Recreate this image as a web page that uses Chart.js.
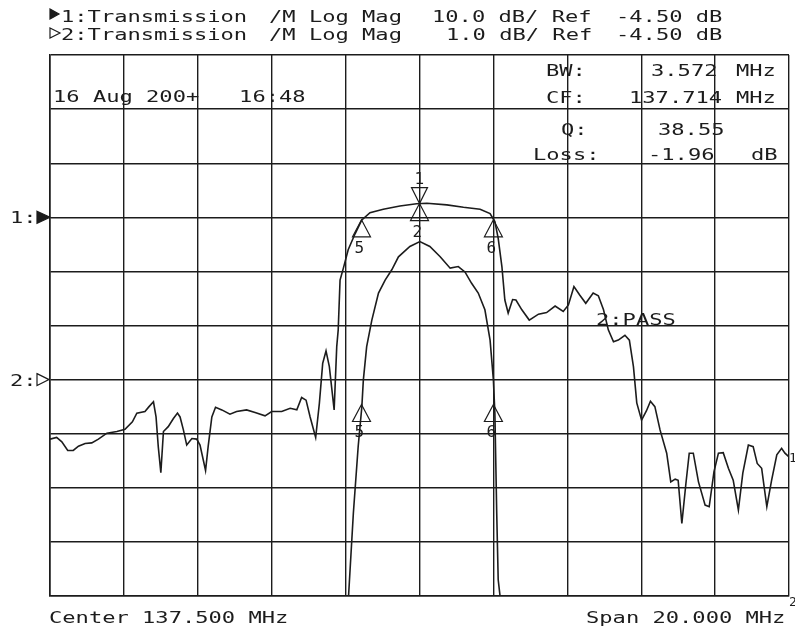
<!DOCTYPE html>
<html>
<head>
<meta charset="utf-8">
<script src="https://cdn.jsdelivr.net/npm/chart.js@4.4.1/dist/chart.umd.min.js"></script>
<style>
  html, body { margin: 0; padding: 0; background: #fff; }
  #wrap { width: 795px; height: 627px; }
</style>
</head>
<body>
<div id="wrap"><canvas id="vna"></canvas></div>
<script>
// sweep: center 137.5 MHz, span 20 MHz, 2 MHz/div
const startMHz = 127.5;
const stopMHz = 147.5;
const refLevel = -4.5;
// trace 1: 10 dB/div, ref on 3rd line from top
const top1 = 25.5, bot1 = -74.5;
// trace 2: 1 dB/div, ref on 6th line from top
const top2 = 1.5, bot2 = -8.5;

// trace 1 (wide view)
const freq1 = [127.50, 127.68, 127.82, 127.98, 128.13, 128.27, 128.45, 128.63, 128.81, 129.04,
  129.31, 129.53, 129.73, 129.85, 130.07, 130.18, 130.30, 130.37, 130.43, 130.50,
  130.57, 130.70, 130.84, 130.95, 131.02, 131.11, 131.20, 131.34, 131.47, 131.56,
  131.65, 131.71, 131.78, 131.88, 131.98, 132.15, 132.37, 132.55, 132.82, 133.05,
  133.32, 133.50, 133.77, 134.00, 134.18, 134.31, 134.43, 134.54, 134.69, 134.79,
  134.88, 134.97, 135.06, 135.19, 135.26, 135.30, 135.35, 135.44, 135.57, 135.76,
  135.94, 136.16, 136.52, 136.97, 137.42, 137.70, 138.24, 138.69, 139.14, 139.41,
  139.54, 139.63, 139.73, 139.81, 139.90, 140.02, 140.11, 140.27, 140.47, 140.72,
  140.94, 141.17, 141.39, 141.53, 141.68, 141.84, 142.00, 142.20, 142.34, 142.48,
  142.61, 142.75, 142.88, 143.06, 143.18, 143.29, 143.38, 143.51, 143.64, 143.75,
  143.87, 144.01, 144.19, 144.30, 144.42, 144.50, 144.60, 144.71, 144.80, 144.91,
  145.05, 145.23, 145.34, 145.47, 145.59, 145.72, 145.86, 145.99, 146.13, 146.25,
  146.40, 146.53, 146.64, 146.76, 146.90, 147.03, 147.17, 147.30, 147.39, 147.50];
const mag1 = [-45.5, -45.2, -46.0, -47.6, -47.6, -46.8, -46.3, -46.2, -45.5, -44.4,
  -44.1, -43.7, -42.3, -40.7, -40.4, -39.5, -38.6, -41.4, -46.9, -51.7,
  -44.1, -43.2, -41.7, -40.7, -41.4, -43.8, -46.6, -45.4, -45.5, -46.6,
  -49.4, -51.3, -46.9, -41.4, -39.6, -40.1, -40.9, -40.4, -40.1, -40.6,
  -41.2, -40.4, -40.4, -39.8, -40.1, -37.8, -38.3, -41.4, -45.2, -38.9,
  -31.5, -29.2, -32.1, -40.1, -28.4, -25.3, -16.1, -13.9, -10.5, -7.5,
  -5.0, -3.65, -3.0, -2.4, -2.0, -1.9, -2.2, -2.65, -3.0, -3.8,
  -5.3, -8.4, -13.6, -19.8, -22.2, -19.7, -19.8, -21.6, -23.5, -22.4,
  -22.1, -20.9, -21.9, -20.7, -17.3, -18.9, -20.4, -18.5, -19.0, -21.6,
  -25.3, -27.5, -27.2, -26.3, -27.2, -32.1, -38.8, -42.0, -40.3, -38.5,
  -39.5, -43.8, -48.1, -53.4, -52.9, -53.1, -61.1, -53.7, -48.1, -48.1,
  -53.4, -57.7, -58.0, -51.5, -48.1, -48.0, -50.9, -53.1, -58.6, -51.8,
  -46.6, -46.9, -50.0, -50.9, -58.0, -53.1, -48.4, -47.2, -48.1, -48.8];

// trace 2 (passband zoom, clipped at the bottom of the screen)
const freq2 = [127.50, 135.58, 135.71, 135.84, 135.94, 135.98, 136.07, 136.21, 136.39, 136.57,
  136.75, 136.93, 137.24, 137.51, 137.78, 138.06, 138.33, 138.55, 138.73, 138.91,
  139.09, 139.27, 139.41, 139.50, 139.54, 139.59, 139.63, 139.68, 147.50];
const mag2 = [-8.5, -8.5, -6.97, -5.74, -5.00, -4.51, -3.89, -3.40, -2.90, -2.66,
  -2.47, -2.23, -2.04, -1.95, -2.04, -2.23, -2.44, -2.41, -2.51, -2.72,
  -2.90, -3.21, -3.77, -4.51, -5.12, -6.97, -8.20, -8.5, -8.5];

// markers
const markerTrace = [1, 1, 1, 1, 2, 2];
const markerFreq = [137.50, 137.50, 135.93, 139.50, 135.93, 139.50];
const markerDb = [-1.96, -1.96, -4.96, -4.96, -4.96, -4.96];
const markerText = ['1', '2', '5', '6', '5', '6'];
const markerDown = [true, false, false, false, false, false];

const ink = '#1c1c1c';
const monoFont = '"DejaVu Sans Mono", "Liberation Mono", monospace';

function hpText(ctx, str, x, y, size, sx) {
  ctx.save();
  ctx.translate(x, y);
  ctx.scale(sx || 1.38, 1);
  ctx.font = (size || 16) + 'px ' + monoFont;
  ctx.fillStyle = ink;
  ctx.textBaseline = 'alphabetic';
  ctx.fillText(str, 0, 0);
  ctx.restore();
}

function tri(ctx, pts, filled) {
  ctx.beginPath();
  ctx.moveTo(pts[0], pts[1]);
  ctx.lineTo(pts[2], pts[3]);
  ctx.lineTo(pts[4], pts[5]);
  ctx.closePath();
  if (filled) { ctx.fillStyle = ink; ctx.fill(); }
  ctx.strokeStyle = ink;
  ctx.lineWidth = 1.2;
  ctx.stroke();
}

const screenText = {
  id: 'screenText',
  afterDraw(chart) {
    const ctx = chart.ctx;
    const xs = chart.scales.x, y1 = chart.scales.y, y2 = chart.scales.y2;

    // header
    tri(ctx, [50, 9, 59, 14, 50, 19], true);
    hpText(ctx, '1:Transmission', 61, 22);
    hpText(ctx, '/M Log Mag', 269, 22);
    hpText(ctx, '10.0 dB/ Ref', 432, 22);
    hpText(ctx, '-4.50 dB', 616, 22);
    tri(ctx, [50, 28, 60, 33, 50, 38], false);
    hpText(ctx, '2:Transmission', 61, 40);
    hpText(ctx, '/M Log Mag', 269, 40);
    hpText(ctx, '1.0 dB/ Ref', 446, 40);
    hpText(ctx, '-4.50 dB', 616, 40);

    // date and marker readouts
    hpText(ctx, '16 Aug 200+   16:48', 53, 102);
    hpText(ctx, 'BW:', 546, 76);
    hpText(ctx, '3.572', 651, 76);
    hpText(ctx, 'MHz', 736, 76);
    hpText(ctx, 'CF:', 546, 103);
    hpText(ctx, '137.714', 629, 103);
    hpText(ctx, 'MHz', 736, 103);
    hpText(ctx, 'Q:', 561, 135);
    hpText(ctx, '38.55', 658, 135);
    hpText(ctx, 'Loss:', 533, 160);
    hpText(ctx, '-1.96', 648, 160);
    hpText(ctx, 'dB', 751, 160);
    hpText(ctx, '2:PASS', 596, 325);

    // reference position arrows
    const r1 = y1.getPixelForValue(refLevel);
    const r2 = y2.getPixelForValue(refLevel);
    hpText(ctx, '1:', 10, r1 + 6);
    tri(ctx, [37, r1 - 6, 50, r1, 37, r1 + 6], true);
    hpText(ctx, '2:', 10, r2 + 6);
    tri(ctx, [37, r2 - 6, 49, r2, 37, r2 + 6], false);

    // footer
    hpText(ctx, 'Center 137.500 MHz', 49, 623);
    hpText(ctx, 'Span 20.000 MHz', 586, 623);

    // trace end labels at the right edge
    hpText(ctx, '1', 789, 462, 13, 1);
    hpText(ctx, '2', 789, 606, 13, 1);

    // markers
    for (let i = 0; i < markerFreq.length; i++) {
      const ys = markerTrace[i] === 1 ? y1 : y2;
      const px = xs.getPixelForValue(markerFreq[i]);
      const py = ys.getPixelForValue(markerDb[i]);
      if (markerDown[i]) {
        tri(ctx, [px, py, px - 8, py - 16, px + 8, py - 16], false);
        hpText(ctx, markerText[i], px - 5, py - 20, 16, 1);
      } else {
        tri(ctx, [px, py, px - 9, py + 17, px + 9, py + 17], false);
        hpText(ctx, markerText[i], px - 7, py + 33, 16, 1);
      }
    }
  }
};

const gridTicks = s => {
  s.ticks = Array.from({ length: 11 }, (_, i) => ({ value: s.min + i * (s.max - s.min) / 10 }));
};

new Chart(document.getElementById('vna'), {
  type: 'line',
  data: {
    datasets: [
      {
        data: freq1.map((f, i) => ({ x: f, y: mag1[i] })),
        yAxisID: 'y',
        borderColor: ink,
        borderWidth: 1.6,
        pointRadius: 0,
        tension: 0
      },
      {
        data: freq2.map((f, i) => ({ x: f, y: mag2[i] })),
        yAxisID: 'y2',
        borderColor: ink,
        borderWidth: 1.6,
        pointRadius: 0,
        tension: 0
      }
    ]
  },
  options: {
    responsive: true,
    maintainAspectRatio: false,
    animation: false,
    events: [],
    layout: { padding: { left: 50, top: 55, right: 6, bottom: 31 } },
    plugins: {
      legend: { display: false },
      tooltip: { enabled: false }
    },
    scales: {
      x: {
        type: 'linear',
        min: startMHz,
        max: stopMHz,
        afterBuildTicks: gridTicks,
        ticks: { display: false },
        grid: { color: ink, lineWidth: 1.4, drawTicks: false },
        border: { color: ink, width: 1.6 }
      },
      y: {
        min: bot1,
        max: top1,
        afterBuildTicks: gridTicks,
        ticks: { display: false },
        grid: { color: ink, lineWidth: 1.4, drawTicks: false },
        border: { color: ink, width: 1.6 }
      },
      y2: {
        display: false,
        min: bot2,
        max: top2
      }
    }
  },
  plugins: [screenText]
});
</script>
</body>
</html>
